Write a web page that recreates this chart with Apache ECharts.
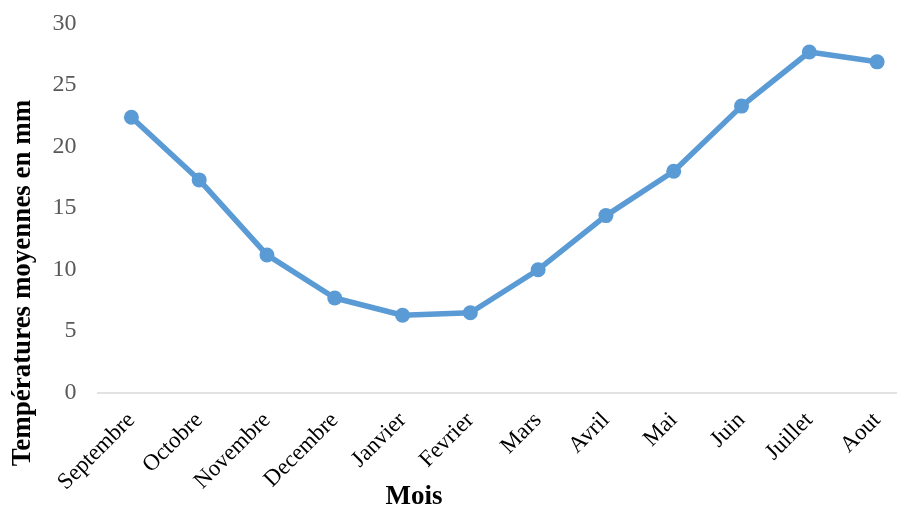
<!DOCTYPE html>
<html>
<head>
<meta charset="utf-8">
<script src="https://cdn.jsdelivr.net/npm/echarts@6/dist/echarts.min.js"></script>
<style>html,body{margin:0;padding:0;background:#fff;overflow:hidden}#c{width:911px;height:511px}</style>
</head>
<body>
<div id="c"></div>
<script>
const categories = ['Septembre','Octobre','Novembre','Decembre','Janvier','Fevrier','Mars','Avril','Mai','Juin','Juillet','Aout'];
const temperatures = [22.4, 17.3, 11.2, 7.7, 6.3, 6.5, 10.0, 14.4, 18.0, 23.3, 27.7, 26.9];
const yTitle = 'Températures moyennes en mm';
const xTitle = 'Mois';

const chart = echarts.init(document.getElementById('c'));
chart.setOption({
  animation: false,
  backgroundColor: '#ffffff',
  grid: { left: 97.5, right: 0, top: 23.7, bottom: 118.3, containLabel: false },
  xAxis: {
    type: 'category',
    data: categories,
    boundaryGap: true,
    axisLine: { show: true, lineStyle: { color: '#d9d9d9', width: 1.5 } },
    axisTick: { show: false },
    axisLabel: { rotate: 45, margin: 24, color: '#000', fontFamily: 'Liberation Serif', fontSize: 23, interval: 0 }
  },
  yAxis: {
    type: 'value',
    min: 0, max: 30, interval: 5,
    axisLine: { show: false },
    axisTick: { show: false },
    splitLine: { show: false },
    axisLabel: { color: '#595959', fontFamily: 'Liberation Serif', fontSize: 24, margin: 21 }
  },
  series: [{
    type: 'line',
    data: temperatures,
    symbol: 'circle',
    symbolSize: 15,
    lineStyle: { color: '#5B9BD5', width: 5.5 },
    itemStyle: { color: '#5B9BD5' }
  }],
  graphic: [
    { type: 'text', x: 414, y: 497, style: { text: xTitle, font: 'bold 27px "Liberation Serif"', fill: '#000', textAlign: 'center', textVerticalAlign: 'middle' } },
    { type: 'text', x: 23, y: 283, rotation: Math.PI / 2, style: { text: yTitle, font: 'bold 27px "Liberation Serif"', fill: '#000', textAlign: 'center', textVerticalAlign: 'middle' } }
  ]
});
</script>
</body>
</html>
